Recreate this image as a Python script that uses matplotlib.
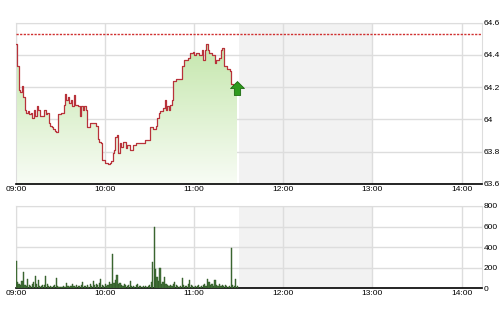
import numpy as np
import matplotlib
matplotlib.use("Agg")
import matplotlib.pyplot as plt
from matplotlib.colors import LinearSegmentedColormap
from matplotlib.path import Path

plt.rcParams['font.family'] = ['Liberation Sans', 'DejaVu Sans']

# -- data (minutes after 09:00) ---------------------------------
price_min = [0, 1, 2, 3, 4, 5, 6, 7, 8, 9, 10, 11, 12, 13, 14, 15, 16, 18, 19, 20,
             21, 22, 23, 24, 25, 26, 27, 28, 30, 31, 32, 33, 34, 35, 36, 37, 38, 39,
             40, 42, 43, 44, 45, 46, 47, 48, 50, 53, 54, 55, 56, 57, 58, 60, 62, 63,
             64, 65, 66, 67, 68, 69, 70, 71, 72, 74, 75, 77, 79, 81, 83, 85, 87, 89,
             90, 92, 94, 95, 96, 97, 99, 100, 101, 102, 103, 104, 105, 106, 108, 111,
             112, 113, 116, 117, 119, 120, 121, 123, 125, 126, 127, 128, 129, 130,
             132, 134, 135, 137, 138, 139, 140, 142, 144, 145, 146, 149]
price_val = [64.47, 64.33, 64.18, 64.17, 64.21, 64.14, 64.06, 64.04, 64.05, 64.03,
             64.04, 64.01, 64.06, 64.02, 64.08, 64.06, 64.02, 64.02, 64.06, 64.03,
             64.04, 63.98, 63.96, 63.95, 63.94, 63.93, 63.92, 64.03, 64.04, 64.04,
             64.09, 64.16, 64.12, 64.14, 64.10, 64.12, 64.08, 64.15, 64.09, 64.08,
             64.02, 64.08, 64.06, 64.08, 64.06, 63.95, 63.98, 63.98, 63.96, 63.88,
             63.86, 63.85, 63.75, 63.73, 63.72, 63.73, 63.74, 63.79, 63.81, 63.89,
             63.90, 63.79, 63.85, 63.83, 63.86, 63.82, 63.84, 63.81, 63.84, 63.85,
             63.85, 63.85, 63.87, 63.87, 63.95, 63.94, 63.96, 64.01, 64.04, 64.05,
             64.07, 64.12, 64.06, 64.08, 64.06, 64.09, 64.12, 64.24, 64.25, 64.25,
             64.33, 64.37, 64.38, 64.41, 64.42, 64.40, 64.41, 64.40, 64.43, 64.37,
             64.43, 64.47, 64.43, 64.41, 64.40, 64.35, 64.37, 64.38, 64.43, 64.44,
             64.33, 64.31, 64.30, 64.22, 64.21, 64.21]

ref_price = 64.53
last_min, last_price = 148.5, 64.195

volume = [263, 60, 40, 30, 70, 160, 35, 25, 88, 30, 20, 45, 60, 117, 40, 78, 25, 20, 30, 35,
          117, 40, 20, 25, 15, 20, 30, 100, 25, 15, 10, 15, 20, 12, 52, 20, 15, 25, 45, 20,
          15, 30, 25, 20, 35, 62, 25, 20, 30, 15, 40, 25, 71, 30, 45, 35, 50, 91, 30, 25,
          40, 20, 35, 60, 45, 331, 50, 85, 130, 40, 55, 30, 25, 45, 35, 20, 30, 68, 25, 20,
          15, 30, 40, 25, 20, 15, 20, 25, 15, 20, 35, 60, 257, 598, 192, 110, 70, 201, 45, 60,
          110, 40, 30, 20, 35, 25, 45, 60, 30, 20, 15, 25, 100, 30, 25, 20, 40, 78, 30, 20,
          15, 25, 20, 30, 15, 25, 35, 40, 25, 94, 60, 30, 45, 25, 78, 30, 20, 40, 25, 30,
          20, 35, 25, 15, 20, 390, 30, 20, 94, 20]
vol_min = list(range(len(volume)))

hour_ticks = [0, 60, 120, 180, 240, 300]
hour_labels = ['09:00', '10:00', '11:00', '12:00', '13:00', '14:00']
price_ticks = [63.6, 63.8, 64.0, 64.2, 64.4, 64.6]
price_labels = ['63.6', '63.8', '64', '64.2', '64.4', '64.6']
vol_ticks = [0, 200, 400, 600, 800]
break_start, break_end = 150, 240
x_end = 313.6

# -- figure -----------------------------------------------------
fig = plt.figure(figsize=(5, 3.12), dpi=100)
ax = fig.add_axes((0.032, 0.4112, 0.9314, 0.516))
axv = fig.add_axes((0.032, 0.076, 0.9314, 0.2638))

grid_c = '#dddddd'


def style(a, ticks, labels, ylim):
    a.set_xlim(0, x_end)
    a.set_ylim(*ylim)
    a.axvspan(break_start, break_end, color='#f2f2f2', zorder=0, lw=0)
    a.set_xticks(hour_ticks, hour_labels)
    a.set_yticks(ticks, labels)
    a.yaxis.tick_right()
    a.grid(True, color=grid_c, lw=1.0, zorder=1)
    a.set_axisbelow(True)
    for s in ('left', 'top', 'right'):
        a.spines[s].set_color(grid_c)
    a.spines['bottom'].set_color('black')
    a.spines['bottom'].set_linewidth(1.2)
    a.tick_params(axis='both', length=0, labelsize=6, colors='black')
    a.tick_params(axis='x', pad=1.5)
    a.tick_params(axis='y', pad=1.5)


style(ax, price_ticks, price_labels, (63.6, 64.6))
style(axv, vol_ticks, [str(v) for v in vol_ticks], (0, 800))

# -- price panel ------------------------------------------------
cmap = LinearSegmentedColormap.from_list('fill', ['#f8fcf5', '#c3e6aa'])
grad = np.linspace(0, 1, 256).reshape(-1, 1)
im = ax.imshow(grad, cmap=cmap, origin='lower', aspect='auto',
               extent=(0, last_min, 63.6, 64.5), zorder=2)
poly = ax.fill_between(price_min + [last_min], price_val + [price_val[-1]], 63.6,
                       step='post', color='none', lw=0)
clip = Path.make_compound_path(*poly.get_paths())
im.set_clip_path(clip, transform=ax.transData)

ax.step(price_min + [last_min], price_val + [price_val[-1]], where='post',
        color='#b8323a', lw=0.9, zorder=4)
ax.axhline(ref_price, color='#d03030', ls=(0, (1.6, 1.0)), lw=1.0, zorder=3)

arrow = Path([(-1, 0), (0, 1), (1, 0), (0.45, 0), (0.45, -1), (-0.45, -1), (-0.45, 0), (-1, 0)],
             [Path.MOVETO] + [Path.LINETO] * 6 + [Path.CLOSEPOLY])
ax.plot([last_min], [last_price], marker=arrow, ms=10, color='#2f9a1e',
        mec='#1c6a10', mew=0.6, zorder=5)

# -- volume panel -----------------------------------------------
axv.bar(vol_min, volume, width=0.8, color='#44733a', edgecolor='#2c5522', lw=0.3, zorder=3)

plt.savefig('out.png', dpi=100)
